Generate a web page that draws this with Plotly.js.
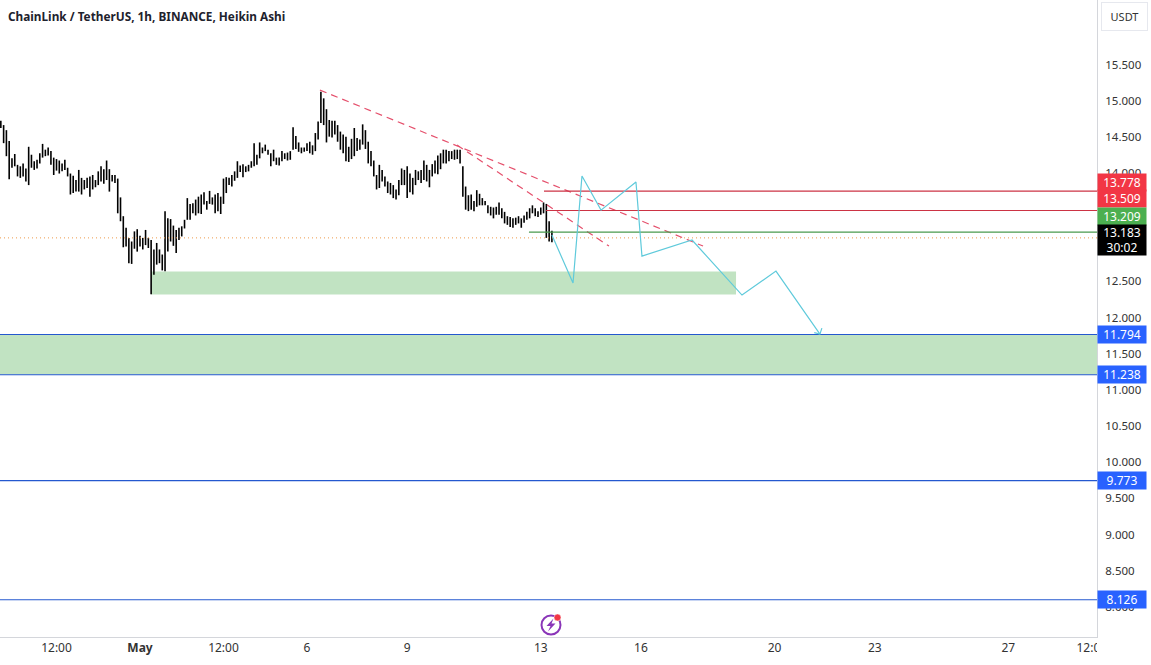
<!DOCTYPE html>
<html><head><meta charset="utf-8">
<script src="https://cdn.plot.ly/plotly-3.0.1.min.js"></script>
<style>html,body{margin:0;padding:0;background:#fff;overflow:hidden}</style>
</head><body><div id="chart" style="width:1151px;height:665px"></div>
<script>
const chartTitle = "ChainLink / TetherUS, 1h, BINANCE, Heikin Ashi";
const candleStart = "2022-04-26T20:00:00Z";
const candleStepHours = 2;
const candleHigh = [
14.75,14.69,14.62,14.47,14.23,14.29,14.14,14.12,14.16,
14.09,14.39,14.28,14.19,14.21,14.30,14.43,14.35,14.38,14.33,
14.24,14.22,14.20,14.16,14.21,14.10,14.02,13.99,13.93,14.07,
13.96,13.93,13.96,13.98,14.00,13.93,14.05,14.12,14.08,14.20,
14.08,14.00,14.00,13.95,13.69,13.43,13.27,13.13,13.08,13.22,
13.25,13.16,13.13,13.24,13.13,13.10,12.97,13.06,12.97,12.90,
13.50,13.40,13.39,13.30,13.24,13.27,13.29,13.38,13.68,13.60,
13.61,13.66,13.70,13.73,13.76,13.64,13.78,13.69,13.73,13.75,
13.70,13.95,13.97,13.96,14.00,14.05,14.19,14.13,14.15,14.12,14.14,
14.19,14.44,14.28,14.45,14.38,14.42,14.35,14.30,14.35,14.24,
14.24,14.33,14.30,14.31,14.33,14.66,14.54,14.45,14.38,14.38,14.44,
14.46,14.41,14.58,14.74,15.15,15.06,14.91,14.76,14.75,14.75,
14.69,14.60,14.56,14.53,14.39,14.50,14.65,14.51,14.49,14.70,14.62,14.46,14.33,
14.20,14.00,14.14,14.07,13.98,13.91,13.89,13.86,13.80,13.93,14.09,14.07,
14.12,14.02,13.96,14.07,14.05,14.07,14.20,14.14,14.07,14.15,14.20,14.27,14.30,
14.35,14.35,14.33,14.33,14.35,14.35,14.35,14.12,13.84,13.72,13.73,
13.64,13.79,13.74,13.68,13.64,13.58,13.56,13.55,13.56,13.62,13.54,13.49,13.43,13.42,
13.40,13.41,13.43,13.40,13.44,13.49,13.54,13.58,13.54,13.50,13.55,13.62,
13.60,13.36,13.23];
const candleLow = [
14.65,14.44,14.26,13.94,14.10,14.12,13.98,13.96,13.98,
13.91,13.86,14.10,14.07,14.09,14.16,14.24,14.26,14.27,14.14,
14.00,14.06,14.02,14.05,14.07,13.98,13.73,13.75,13.77,13.77,
13.73,13.80,13.82,13.70,13.80,13.83,13.86,13.91,13.88,13.93,
13.77,13.91,13.89,13.47,13.36,13.00,13.01,12.78,12.77,12.98,
12.94,13.01,12.97,13.03,12.99,12.35,12.62,12.76,12.78,12.68,
12.67,12.94,13.08,13.02,12.92,13.10,13.15,13.26,13.38,13.38,
13.47,13.44,13.47,13.46,13.59,13.52,13.60,13.59,13.47,13.50,
13.46,13.60,13.75,13.86,13.84,13.92,13.96,14.04,13.97,14.04,14.05,
14.10,14.12,14.14,14.23,14.30,14.33,14.28,14.12,14.19,14.14,
14.13,14.19,14.22,14.20,14.21,14.35,14.36,14.32,14.30,14.32,14.33,
14.30,14.28,14.33,14.49,14.72,14.69,14.45,14.53,14.52,14.56,
14.46,14.35,14.30,14.19,14.18,14.22,14.26,14.33,14.35,14.42,14.36,14.16,14.12,
13.98,13.80,13.82,13.91,13.84,13.75,13.73,13.68,13.66,13.72,13.86,13.86,
13.68,13.76,13.73,13.86,13.93,13.89,13.93,13.91,13.83,13.98,14.02,14.01,14.08,
14.16,14.16,14.19,14.22,14.21,14.22,14.16,13.70,13.52,13.50,13.52,
13.50,13.56,13.58,13.58,13.58,13.47,13.44,13.40,13.45,13.45,13.40,13.33,13.31,13.28,
13.27,13.31,13.33,13.27,13.34,13.38,13.40,13.47,13.43,13.42,13.45,13.47,
13.13,13.08,13.07];
const pathDates = ["2022-05-13T08:00","2022-05-13T23:10","2022-05-14T05:36","2022-05-14T19:18","2022-05-15T20:24","2022-05-16T00:42","2022-05-17T12:42","2022-05-19T00:36","2022-05-20T01:00","2022-05-21T08:36"];
const pathPrices = [13.169,12.505,13.985,13.514,13.902,12.878,13.10,12.339,12.671,11.799];
const arrowDates = ["2022-05-21T04:30","2022-05-21T08:36","2022-05-21T10:00"];
const arrowPrices = [11.82,11.799,11.882];
const trendADates = ["2022-05-06T09:20","2022-05-17T20:36"];
const trendAPrices = [15.174,13.017];
const trendBDates = ["2022-05-10T11:48","2022-05-15T01:00"];
const trendBPrices = [14.414,13.017];
const zoneADates = ["2022-05-01T07:54","2022-05-18T20:18"];
const zoneAPrices = [12.347,12.665];
const xStart = "2022-04-26T19:24";
const xEnd = "2022-05-29T15:42";
const yBottom = 7.61, yTop = 16.42;
const zoneBPrices = [11.238,11.794];
const blueLevels = [11.794,11.238,9.773,8.126];
const redLevels = [13.778,13.509];
const redStarts = ["2022-05-13T02:18","2022-05-13T03:45"];
const greenLevel = 13.209, greenStart = "2022-05-12T15:30";
const dottedLevel = 13.13;
const xTickDates = ["2022-04-28T12:00","2022-05-01T00:00","2022-05-03T12:00","2022-05-06T00:00","2022-05-09T00:00","2022-05-13T00:00","2022-05-16T00:00","2022-05-20T00:00","2022-05-23T00:00","2022-05-27T00:00","2022-05-29T12:00"];
const xTickText = ["12:00","<b>May</b>","12:00","6","9","13","16","20","23","27","12:00"];
const yTickValues = [8,8.5,9,9.5,10,10.5,11,11.5,12,12.5,14,14.5,15,15.5];

const FONT = '"Noto Sans", "DejaVu Sans", sans-serif';
const cyan = "#5fcadb", dashRed = "#e5506c", blue = "#2458cf", lineRed = "#cc3344", lineGreen = "#4a9a4e";
const W = 1097, H = 637;
const candleDates = candleHigh.map((_, i) => new Date(Date.parse(candleStart) + i * candleStepHours * 3600000).toISOString());
const line = (x, y, color, width, dash, name) => ({type:"scatter", mode:"lines", x, y, name, line:{color, width, dash:dash||"solid"}, hoverinfo:"skip"});

const traces = [
  line([xStart,xEnd],[dottedLevel,dottedLevel],"#ee9a4a",1,"1px,3px","last"),
  {type:"ohlc", x:candleDates, open:candleLow, high:candleHigh, low:candleLow, close:candleHigh, tickwidth:0,
   increasing:{line:{color:"#000",width:1.6}}, decreasing:{line:{color:"#000",width:1.6}}, hoverinfo:"skip", name:"LINKUSDT"},
  line(trendADates,trendAPrices,dashRed,1.2,"7px,5px","trend"),
  line(trendBDates,trendBPrices,dashRed,1.2,"7px,5px","trend"),
  line([redStarts[0],xEnd],[redLevels[0],redLevels[0]],lineRed,1.2,null,"r1"),
  line([redStarts[1],xEnd],[redLevels[1],redLevels[1]],lineRed,1.2,null,"r2"),
  line([greenStart,xEnd],[greenLevel,greenLevel],lineGreen,1.2,null,"g"),
  ...blueLevels.map(v => line([xStart,xEnd],[v,v],blue,1.1,null,"b")),
  line(pathDates,pathPrices,cyan,1.2,null,"path"),
  line(arrowDates,arrowPrices,cyan,1.2,null,"arrow")
];

const px = p => p / W, py = p => 1 - p / H;
const purple = "#8a35b8";
const shapes = [
  {type:"rect", xref:"x", yref:"y", x0:zoneADates[0], x1:zoneADates[1], y0:zoneAPrices[0], y1:zoneAPrices[1], fillcolor:"rgba(76,175,80,0.35)", line:{width:0}, layer:"below"},
  {type:"rect", xref:"x", yref:"y", x0:xStart, x1:xEnd, y0:zoneBPrices[0], y1:zoneBPrices[1], fillcolor:"rgba(76,175,80,0.35)", line:{width:0}, layer:"below"},
  {type:"rect", xref:"paper", yref:"paper", x0:1, x1:px(1151), y0:py(665), y1:py(638), fillcolor:"#fff", line:{width:0}, layer:"above"},
  {type:"circle", xref:"paper", yref:"paper", x0:px(541.5), x1:px(560.5), y0:py(634.5), y1:py(615.5), line:{color:purple,width:2}, fillcolor:"#fff"},
  {type:"path", xref:"paper", yref:"paper", path:`M ${px(553.5)} ${py(618.5)} L ${px(546.5)} ${py(626)} L ${px(550.5)} ${py(626)} L ${px(548)} ${py(631.5)} L ${px(555.5)} ${py(623.5)} L ${px(551.5)} ${py(623.5)} Z`, fillcolor:purple, line:{width:0}},
  {type:"circle", xref:"paper", yref:"paper", x0:px(554), x1:px(561), y0:py(621), y1:py(614), fillcolor:"#f23645", line:{color:"#fff",width:0.5}}
];

const flag = (text, value, shift, bg, height) => ({
  xref:"paper", yref:"y", x:px(1097), y:value, yshift:shift, xanchor:"left", yanchor:"middle", showarrow:false,
  text, width:48, height:height||17, bgcolor:bg, borderpad:0, align:"center", font:{family:FONT,size:12,color:"#fff"}
});
const annotations = [
  {xref:"paper", yref:"paper", x:px(6), y:py(16), xanchor:"left", yanchor:"middle", showarrow:false, text:"<b>"+chartTitle+"</b>", font:{family:FONT,size:11.8,color:"#1e222d"}},
  {xref:"paper", yref:"paper", x:px(1124), y:py(17), xanchor:"center", yanchor:"middle", showarrow:false, text:"USDT", width:43, height:25, bordercolor:"#e6e8ee", borderwidth:1, bgcolor:"#fff", font:{family:FONT,size:11,color:"#333"}},
  flag("13.778",13.778,8.5,"#f23645"),
  flag("13.509",13.509,11.5,"#f23645"),
  flag("13.209",13.209,15.5,"#4caf50"),
  flag("13.183<br>30:02",13.183,-5.5,"#000",30),
  flag("11.794",11.794,0,"#2962ff"),
  flag("11.238",11.238,0,"#2962ff"),
  flag("9.773",9.773,0,"#2962ff"),
  flag("8.126",8.126,0,"#2962ff")
];

Plotly.newPlot("chart", traces, {
  width:1151, height:665, margin:{l:0,r:54,t:0,b:28,pad:0},
  paper_bgcolor:"#fff", plot_bgcolor:"#fff", showlegend:false, hovermode:false, dragmode:false,
  shapes, annotations,
  xaxis:{type:"date", range:[xStart,xEnd], showgrid:false, zeroline:false, showline:true, linecolor:"#d4d6db", linewidth:1, ticks:"", tickmode:"array", tickvals:xTickDates, ticktext:xTickText, tickangle:0, tickfont:{family:FONT,size:12,color:"#333"}, rangeslider:{visible:false}},
  yaxis:{side:"right", range:[yBottom,yTop], showgrid:false, zeroline:false, showline:true, linecolor:"#d4d6db", linewidth:1, ticks:"outside", ticklen:5, tickcolor:"rgba(0,0,0,0)", tickmode:"array", tickvals:yTickValues, tickformat:".3f", ticklabelshift:-2, tickfont:{family:FONT,size:11.5,color:"#333"}}
}, {displayModeBar:false, staticPlot:true});
</script></body></html>
